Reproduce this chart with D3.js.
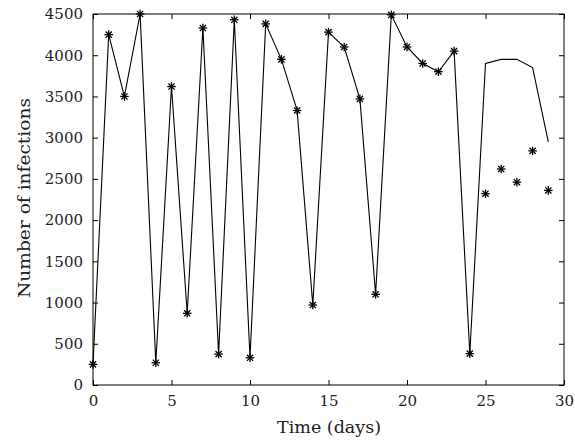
<!DOCTYPE html>
<html>
<head>
<meta charset="utf-8">
<script src="https://cdn.jsdelivr.net/npm/d3@7"></script>
<style>
  body { margin: 0; background: #fff; }
  text { font-family: "DejaVu Serif", "Liberation Serif", serif; fill: #222; }
</style>
</head>
<body>
<svg id="chart" width="575" height="447"></svg>
<script>
// Observed infections, days 0..24 (joined by line, asterisk markers)
const days = d3.range(0, 25);
const infections = [250, 4250, 3500, 4500, 270, 3620, 870, 4330, 375, 4430,
  330, 4380, 3950, 3330, 970, 4280, 4100, 3470, 1100, 4490,
  4100, 3900, 3800, 4050, 380];

// Line continuation, days 24..29 (no markers)
const lineDays = [24, 25, 26, 27, 28, 29];
const lineValues = [380, 3900, 3950, 3950, 3850, 2950];

// Separate asterisks, days 25..29
const extraDays = [25, 26, 27, 28, 29];
const extraValues = [2320, 2620, 2460, 2840, 2360];

const xTicks = [0, 5, 10, 15, 20, 25, 30];
const yTicks = d3.range(0, 4501, 500);

const margin = { left: 93, right: 11, top: 14, bottom: 62 };
const width = 575, height = 447;

const svg = d3.select("#chart");

const x = d3.scaleLinear().domain([0, 30]).range([margin.left, width - margin.right]);
const y = d3.scaleLinear().domain([0, 4500]).range([height - margin.bottom, margin.top]);

const tickLen = 5;

// box
svg.append("rect")
  .attr("x", x(0)).attr("y", y(4500))
  .attr("width", x(30) - x(0)).attr("height", y(0) - y(4500))
  .attr("fill", "none").attr("stroke", "#000").attr("stroke-width", 1);

// axes with inward ticks
function styleAxis(g) {
  g.select(".domain").remove();
  g.selectAll(".tick line").attr("stroke", "#000");
  g.selectAll(".tick text")
    .style("font-family", '"DejaVu Serif", "Liberation Serif", serif')
    .style("font-size", "15px").attr("fill", "#222");
}

svg.append("g")
  .attr("transform", `translate(0,${y(0)})`)
  .call(d3.axisBottom(x).tickValues(xTicks).tickSize(-tickLen).tickPadding(10).tickFormat(d3.format("d")))
  .call(styleAxis);

svg.append("g")
  .attr("transform", `translate(0,${y(4500)})`)
  .call(d3.axisTop(x).tickValues(xTicks).tickSize(-tickLen).tickFormat(""))
  .call(styleAxis);

svg.append("g")
  .attr("transform", `translate(${x(0)},0)`)
  .call(d3.axisLeft(y).tickValues(yTicks).tickSize(-tickLen).tickPadding(10).tickFormat(d3.format("d")))
  .call(styleAxis);

svg.append("g")
  .attr("transform", `translate(${x(30)},0)`)
  .call(d3.axisRight(y).tickValues(yTicks).tickSize(-tickLen).tickFormat(""))
  .call(styleAxis);

// lines
const line = d3.line().x(d => x(d[0])).y(d => y(d[1]));

svg.append("path")
  .datum(days.map((d, i) => [d, infections[i]]))
  .attr("d", line)
  .attr("fill", "none").attr("stroke", "#000").attr("stroke-width", 1.1);

svg.append("path")
  .datum(lineDays.map((d, i) => [d, lineValues[i]]))
  .attr("d", line)
  .attr("fill", "none").attr("stroke", "#000").attr("stroke-width", 1.1);

// asterisk markers
function asterisk(g, pts) {
  const r = 4.3, rd = r * 0.72;
  const m = g.selectAll("g.mk").data(pts).enter().append("g")
    .attr("class", "mk")
    .attr("transform", d => `translate(${x(d[0])},${y(d[1])})`);
  const segs = [[-r, 0, r, 0], [0, -r, 0, r], [-rd, -rd, rd, rd], [-rd, rd, rd, -rd]];
  segs.forEach(s => {
    m.append("line")
      .attr("x1", s[0]).attr("y1", s[1]).attr("x2", s[2]).attr("y2", s[3])
      .attr("stroke", "#000").attr("stroke-width", 1.3);
  });
}

asterisk(svg.append("g"), days.map((d, i) => [d, infections[i]]));
asterisk(svg.append("g"), extraDays.map((d, i) => [d, extraValues[i]]));

// axis labels
svg.append("text")
  .attr("x", 329).attr("y", 433)
  .attr("text-anchor", "middle")
  .attr("textLength", 104).attr("lengthAdjust", "spacingAndGlyphs")
  .style("font-size", "16px")
  .text("Time (days)");

svg.append("text")
  .attr("transform", `translate(30,198) rotate(-90)`)
  .attr("text-anchor", "middle")
  .attr("textLength", 200).attr("lengthAdjust", "spacingAndGlyphs")
  .style("font-size", "16px")
  .text("Number of infections");
</script>
</body>
</html>
